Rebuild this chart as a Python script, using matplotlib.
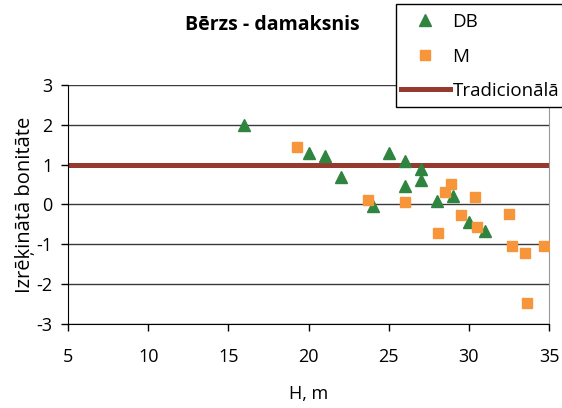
import matplotlib
matplotlib.use('Agg')
import matplotlib.pyplot as plt
from matplotlib.patches import Rectangle

plt.rcParams['font.family'] = ['Open Sans', 'DejaVu Sans']
plt.rcParams['axes.unicode_minus'] = False

# augstums H (m) un aprēķinātā bonitāte
db_h = [16, 20, 21, 22, 24, 25, 26, 26, 27, 27, 28, 29, 30, 31]
db_b = [2.0, 1.3, 1.22, 0.7, -0.05, 1.3, 1.1, 0.45, 0.9, 0.6, 0.08, 0.2, -0.45, -0.66]

m_h = [19.3, 23.7, 26.0, 28.1, 28.5, 28.9, 29.5, 30.4, 30.5, 32.5, 32.7, 33.5, 33.6, 34.7]
m_b = [1.45, 0.1, 0.06, -0.73, 0.3, 0.5, -0.27, 0.18, -0.56, -0.23, -1.05, -1.22, -2.47, -1.05]

trad_b = 1.0

W, H = 562, 408
fig = plt.figure(figsize=(W / 100, H / 100), dpi=100)
ax = fig.add_axes([0.121, 0.206, 0.856, 0.586])

ax.set_xlim(5, 35)
ax.set_ylim(-3, 3)
ax.set_xticks(range(5, 36, 5))
ax.set_yticks(range(-3, 4))
ax.yaxis.grid(True, color='#3a3a3a', linewidth=1.0)
ax.set_axisbelow(True)

ax.plot(db_h, db_b, linestyle='none', marker='^', markersize=9,
        color='#2f8540', label='DB', zorder=3)
ax.plot(m_h, m_b, linestyle='none', marker='s', markersize=7,
        color='#f7953a', label='M', zorder=3)
ax.axhline(trad_b, color='#953a2c', linewidth=3.6, label='Tradicionālā', zorder=2)

ax.spines['top'].set_visible(False)
ax.spines['right'].set_color('#999999')
ax.spines['left'].set_color('black')
ax.spines['bottom'].set_color('black')
ax.tick_params(axis='both', direction='out', labelsize=13, length=5, width=1)
ax.tick_params(axis='x', pad=12)
ax.tick_params(axis='y', pad=6)

ax.set_xlabel('H, m', fontsize=13, labelpad=14)
ax.set_ylabel('Izrēķinātā bonitāte', fontsize=14.5, labelpad=1)
fig.text(272 / W, 1 - 25 / H, 'Bērzs - damaksnis', fontsize=14, fontweight='bold',
         ha='center', va='center')

# leģendas rāmis iet līdz attēla malai
box = Rectangle((396 / W, 1 - 107 / H), (W + 10 - 396) / W, 103 / H,
                transform=fig.transFigure, facecolor='white', edgecolor='black',
                linewidth=1.0, zorder=4)
fig.patches.append(box)

leg = fig.legend(loc='upper left', bbox_to_anchor=(401 / W, 1 - 13 / H),
                 fontsize=13.5, frameon=False,
                 labelspacing=0.88, handlelength=2.6, handletextpad=0.15,
                 borderpad=0.0, borderaxespad=0)
leg.set_zorder(5)

fig.savefig('out.png', dpi=100)
